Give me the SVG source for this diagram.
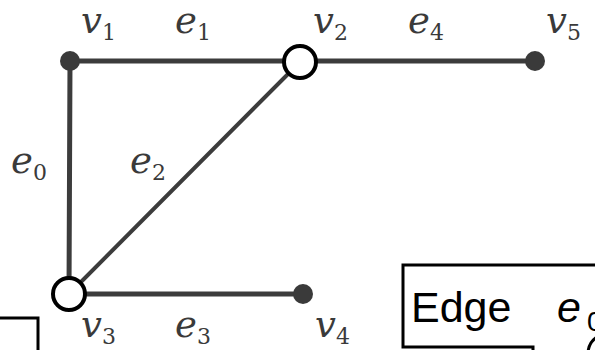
<svg xmlns="http://www.w3.org/2000/svg" width="595" height="350" viewBox="0 0 595 350">
<style>
.edge{stroke:#3c3c3c;stroke-width:5;stroke-linecap:round;fill:none}
.dot{fill:#3a3a3a}
.open{fill:#fff;stroke:#000;stroke-width:4}
.lbl{font-family:"DejaVu Serif",serif;font-style:italic;font-size:37px;fill:#3a3a3a}
.sub{font-family:"DejaVu Serif",serif;font-style:normal;font-size:22px;fill:#3a3a3a}
.box{fill:#fff;stroke:#000;stroke-width:3}
.cap{font-family:"Liberation Sans",sans-serif;font-size:43px;fill:#000}
</style>
<rect width="595" height="350" fill="#fff"/>
<g id="connectors">
<line class="edge" x1="70" y1="61" x2="535" y2="61"/>
<line class="edge" x1="70" y1="61" x2="69" y2="294"/>
<line class="edge" x1="69" y1="294" x2="300" y2="62" style="stroke-width:4"/>
<line class="edge" x1="69" y1="294" x2="303" y2="294"/>
</g>
<g id="v1"><circle class="dot" cx="70" cy="61" r="10"/><text class="lbl" x="81" y="33">v<tspan class="sub" dy="7">1</tspan></text></g>
<g id="v2"><circle class="open" cx="300" cy="62" r="16"/><text class="lbl" x="313" y="33">v<tspan class="sub" dy="7">2</tspan></text></g>
<g id="v5"><circle class="dot" cx="535" cy="61" r="10"/><text class="lbl" x="546" y="33">v<tspan class="sub" dy="7">5</tspan></text></g>
<g id="v3"><circle class="open" cx="69" cy="294" r="16"/><text class="lbl" x="81" y="337">v<tspan class="sub" dy="7">3</tspan></text></g>
<g id="v4"><circle class="dot" cx="303" cy="294" r="10"/><text class="lbl" x="315" y="337">v<tspan class="sub" dy="7">4</tspan></text></g>
<g id="edge-labels">
<text class="lbl" x="175" y="33">e<tspan class="sub" dy="7">1</tspan></text>
<text class="lbl" x="408" y="33">e<tspan class="sub" dy="7">4</tspan></text>
<text class="lbl" x="11" y="173">e<tspan class="sub" dy="7">0</tspan></text>
<text class="lbl" x="130" y="173">e<tspan class="sub" dy="7">2</tspan></text>
<text class="lbl" x="175" y="337">e<tspan class="sub" dy="7">3</tspan></text>
</g>
<g id="left-box"><rect class="box" x="-10" y="318" width="48" height="50"/></g>
<g id="edge-box">
<path class="box" d="M 620 265 H 403 V 347 H 533 V 360"/>
<text class="cap" x="411" y="322">Edge <tspan font-style="italic" x="557">e</tspan><tspan font-size="28" x="587" dy="9">0</tspan></text>
<path d="M 588 352 Q 589 342 597 337" fill="none" stroke="#000" stroke-width="3"/>
</g>
</svg>
